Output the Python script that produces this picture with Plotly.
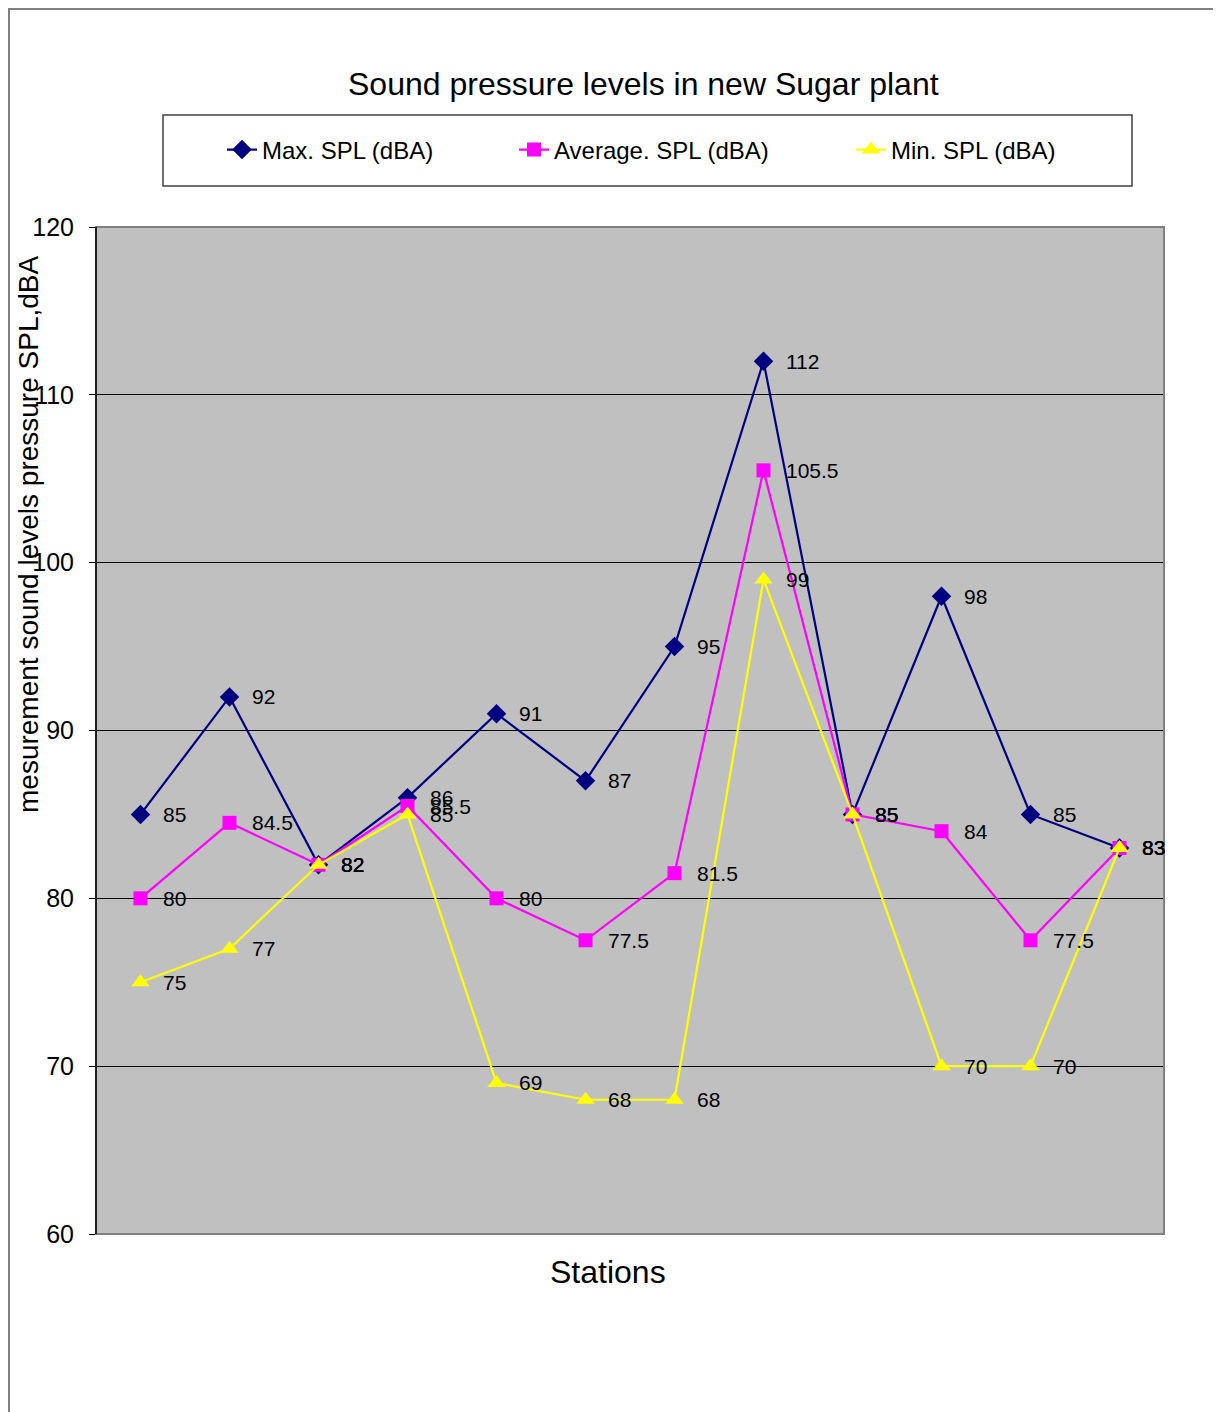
import plotly.graph_objects as go

stations = [1, 2, 3, 4, 5, 6, 7, 8, 9, 10, 11, 12]
max_spl = [85, 92, 82, 86, 91, 87, 95, 112, 85, 98, 85, 83]
avg_spl = [80, 84.5, 82, 85.5, 80, 77.5, 81.5, 105.5, 85, 84, 77.5, 83]
min_spl = [75, 77, 82, 85, 69, 68, 68, 99, 85, 70, 70, 83]
y_ticks = [60, 70, 80, 90, 100, 110, 120]

FONT = "Liberation Sans, Arial, sans-serif"
OFF = 8  # default page body margin
W, H = 1221 - OFF, 1412 - OFF
L, T = 96 - OFF, 227 - OFF
R = W - (1164 - OFF)
B = H - (1234 - OFF)
PW, PH = W - L - R, H - T - B


def px(xp):
    return (xp - OFF - L) / PW


def py(yp):
    return (H - B - (yp - OFF)) / PH


series = [
    ("Max. SPL (dBA)", max_spl, "#000080", "diamond", 15, "legend"),
    ("Average. SPL (dBA)", avg_spl, "#FF00FF", "square", 14, "legend2"),
    ("Min. SPL (dBA)", min_spl, "#FFFF00", "triangle-up", 16, "legend3"),
]

fig = go.Figure()
annotations = []
for name, vals, col, sym, size, leg in series:
    fig.add_trace(go.Scatter(
        x=stations, y=vals, name=name, mode="lines+markers",
        line=dict(color=col, width=2.2),
        marker=dict(symbol=sym, size=size, color=col, line=dict(width=0)),
        legend=leg, cliponaxis=False,
    ))
    for s, v in zip(stations, vals):
        annotations.append(dict(
            x=s, y=v, xref="x", yref="y", text=f"{v:g}", showarrow=False,
            xanchor="left", yanchor="middle", xshift=20,
            font=dict(family=FONT, size=21, color="black"),
        ))

annotations += [
    dict(text="Sound pressure levels in new Sugar plant", x=px(643), y=py(84),
         xref="paper", yref="paper", showarrow=False, xanchor="center", yanchor="middle",
         font=dict(family=FONT, size=32, color="black")),
    dict(text="Stations", x=px(608), y=py(1272), xref="paper", yref="paper",
         showarrow=False, xanchor="center", yanchor="middle",
         font=dict(family=FONT, size=32, color="black")),
    dict(text="mesurement sound levels pressure SPL,dBA", x=px(28), y=py(535),
         xref="paper", yref="paper", showarrow=False, xanchor="center", yanchor="middle",
         textangle=-90, font=dict(family=FONT, size=28, color="black")),
]

shapes = [
    # outer chart frame
    dict(type="rect", xref="paper", yref="paper", x0=px(9), x1=px(1300), y0=py(1500), y1=py(9),
         line=dict(color="#808080", width=2), layer="below"),
    # legend box
    dict(type="rect", xref="paper", yref="paper", x0=px(163), x1=px(1132), y0=py(186), y1=py(115),
         line=dict(color="#404040", width=1.5), fillcolor="white", layer="below"),
    # plot area border
    dict(type="rect", xref="paper", yref="paper", x0=0, x1=1, y0=0, y1=1,
         line=dict(color="#808080", width=2), layer="above"),
    dict(type="line", xref="paper", yref="paper", x0=0, x1=0, y0=0, y1=1,
         line=dict(color="black", width=1.5), layer="above"),
]

legend_common = dict(orientation="h", yanchor="middle", y=py(150), xanchor="left",
                     bgcolor="rgba(0,0,0,0)", borderwidth=0,
                     font=dict(family=FONT, size=24, color="black"))

fig.update_layout(
    width=W, height=H,
    margin=dict(l=L, r=R, t=T, b=B),
    paper_bgcolor="white", plot_bgcolor="#C0C0C0",
    showlegend=True,
    legend=dict(x=px(222), **legend_common),
    legend2=dict(x=px(514), **legend_common),
    legend3=dict(x=px(851), **legend_common),
    xaxis=dict(range=[0.5, 12.5], showticklabels=False, showgrid=False, zeroline=False,
               ticks="", showline=False),
    yaxis=dict(range=[60, 120], tickvals=y_ticks, ticks="outside", ticklen=6,
               tickcolor="black", showgrid=True, gridcolor="black", gridwidth=1,
               zeroline=False, showline=False, ticklabelstandoff=10,
               tickfont=dict(family=FONT, size=25, color="black")),
    annotations=annotations,
    shapes=shapes,
)

fig.write_html("out.html")
